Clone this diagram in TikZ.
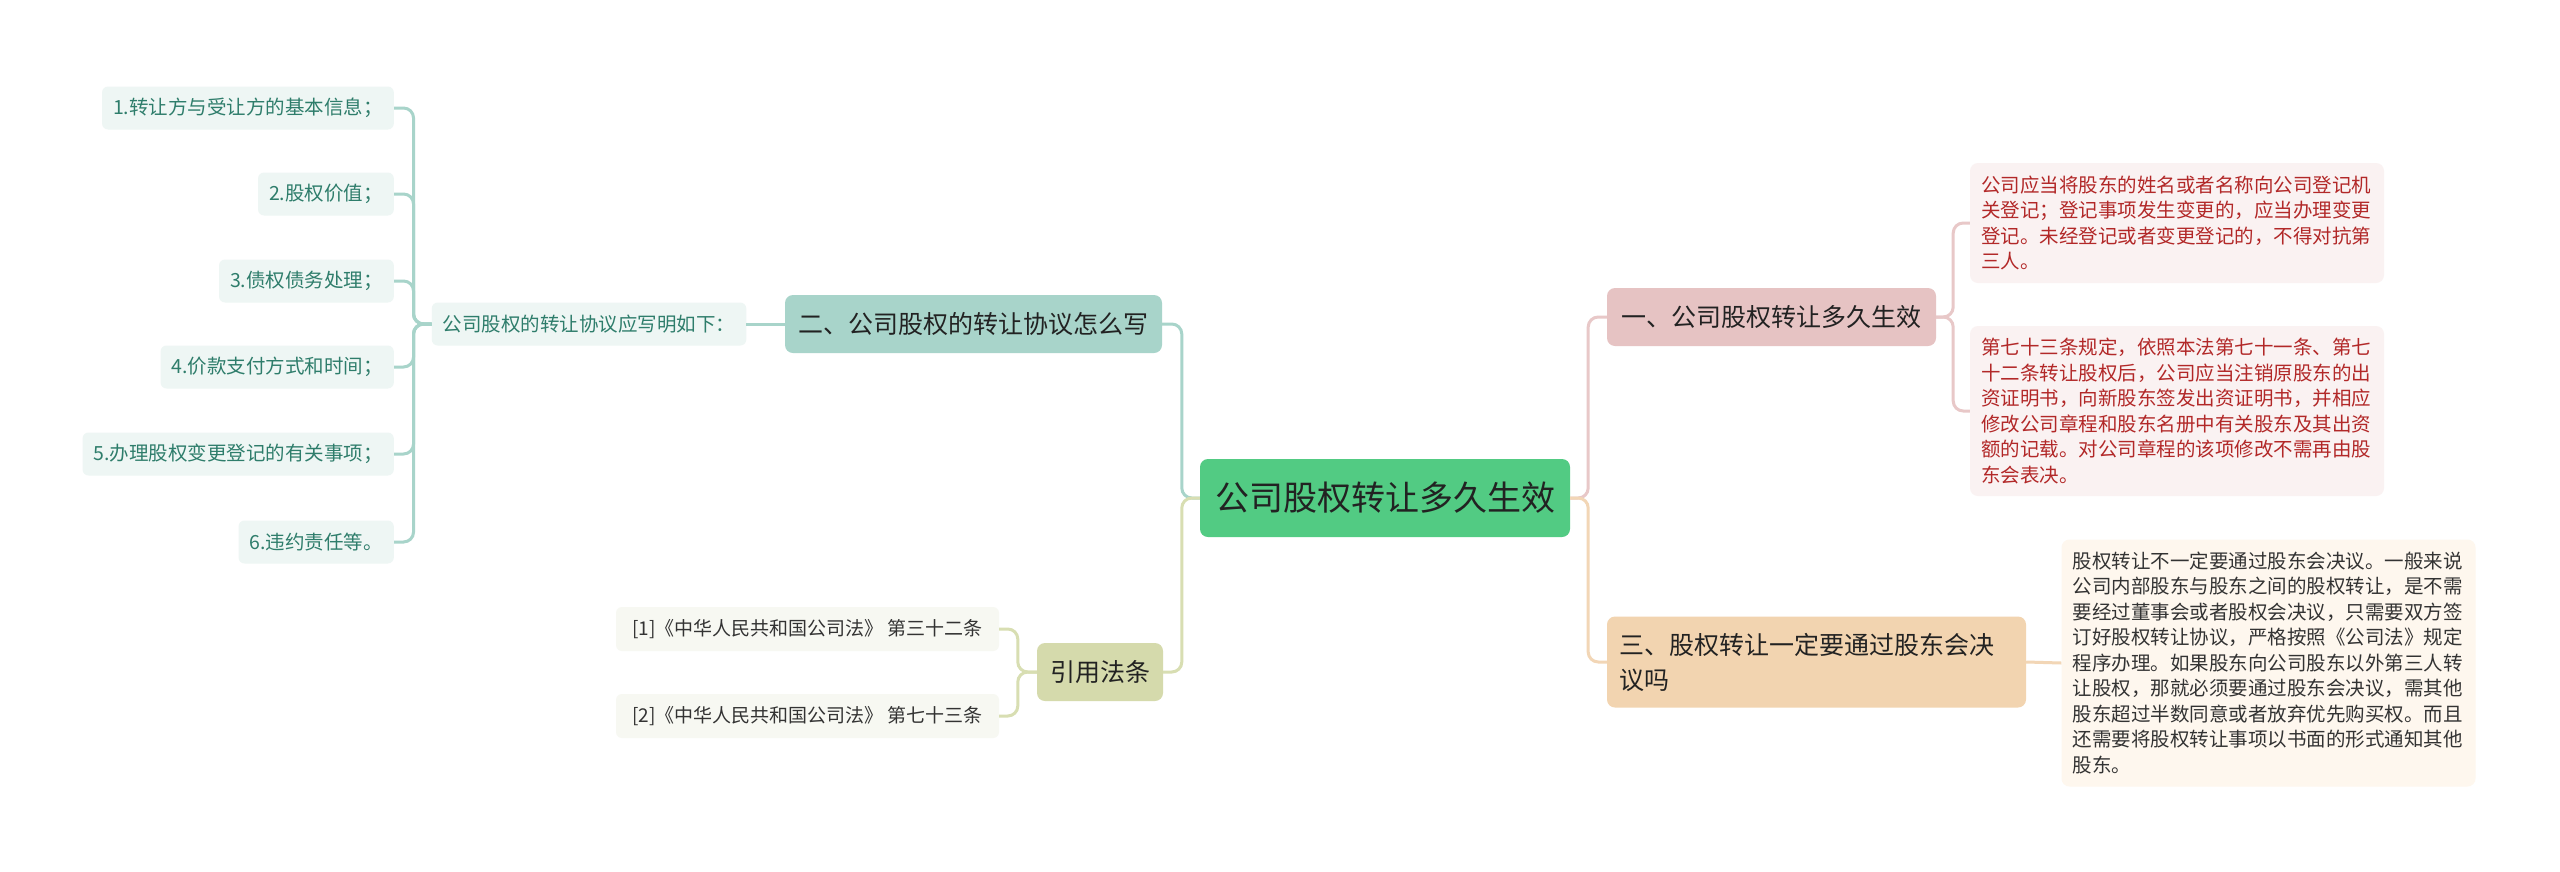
\documentclass[tikz,border=0pt]{standalone}
\usepackage{fontspec}
\setmainfont{Noto Sans CJK SC}
\definecolor{cRoot}{RGB}{82,203,131}
\definecolor{cDark}{RGB}{34,34,34}
\definecolor{cTwo}{RGB}{168,212,202}
\definecolor{cTwoLine}{RGB}{168,212,202}
\definecolor{cLeaf}{RGB}{238,246,244}
\definecolor{cLeafText}{RGB}{46,125,107}
\definecolor{cYin}{RGB}{213,218,172}
\definecolor{cYinLine}{RGB}{216,222,178}
\definecolor{cCite}{RGB}{247,248,242}
\definecolor{cOne}{RGB}{230,195,195}
\definecolor{cOneLine}{RGB}{232,200,200}
\definecolor{cRed}{RGB}{250,242,242}
\definecolor{cRedText}{RGB}{178,40,40}
\definecolor{cThree}{RGB}{242,212,176}
\definecolor{cThreeLine}{RGB}{242,214,182}
\definecolor{cThreeTxt}{RGB}{254,247,238}
\definecolor{cBody}{RGB}{51,51,51}
\tikzset{
  rootbox/.style={rectangle, rounded corners=8pt, inner sep=0pt, fill=cRoot, text=cDark,
    minimum width=370pt, minimum height=78pt, font=\fontsize{34}{40}\selectfont},
  mainbox/.style={rectangle, rounded corners=8pt, inner sep=0pt, text=cDark,
    minimum height=58pt, font=\fontsize{25}{35}\selectfont},
  leafbox/.style={rectangle, rounded corners=6pt, inner xsep=11pt, inner ysep=0pt, fill=cLeaf,
    text=cLeafText, minimum height=43pt, font=\fontsize{19.5}{25.5}\selectfont},
  citebox/.style={rectangle, rounded corners=6pt, inner xsep=9pt, inner ysep=0pt, fill=cCite,
    text=cBody, minimum height=44pt, font=\fontsize{19}{25}\selectfont},
  textbox/.style={rectangle, rounded corners=8pt, inner xsep=11pt, inner ysep=8pt,
    text width=392pt, align=left, font=\fontsize{19.5}{25.5}\selectfont},
  conn/.style={line width=3pt, rounded corners=10pt}
}
\begin{document}
\begin{tikzpicture}[x=1pt,y=-1pt]
\useasboundingbox (0,0) rectangle (2560,871);
\fill[white] (0,0) rectangle (2560,871);

% root
\node[rootbox] (root) at (1385,498) {公司股权转让多久生效};

% left branch 2
\node[mainbox, fill=cTwo, minimum width=377pt] (two) at (973.5,324) {二、公司股权的转让协议怎么写};
\node[leafbox] (xm) at (589,324) {公司股权的转让协议应写明如下：};
\node[leafbox, anchor=east] (l1) at (394,108) {1.转让方与受让方的基本信息；};
\node[leafbox, anchor=east] (l2) at (394,194) {2.股权价值；};
\node[leafbox, anchor=east] (l3) at (394,281) {3.债权债务处理；};
\node[leafbox, anchor=east] (l4) at (394,367) {4.价款支付方式和时间；};
\node[leafbox, anchor=east] (l5) at (394,454) {5.办理股权变更登记的有关事项；};
\node[leafbox, anchor=east] (l6) at (394,542) {6.违约责任等。};

% citations
\node[mainbox, fill=cYin, minimum width=126pt] (yy) at (1100,672) {引用法条};
\node[citebox, minimum width=383pt] (c1) at (807.5,629) {[1]《中华人民共和国公司法》 第三十二条};
\node[citebox, minimum width=383pt] (c2) at (807.5,716) {[2]《中华人民共和国公司法》 第七十三条};

% right branch 1
\node[mainbox, fill=cOne, minimum width=329pt] (one) at (1771.5,317) {一、公司股权转让多久生效};
\node[textbox, fill=cRed, text=cRedText, minimum height=120pt] (r1) at (2177,223)
 {公司应当将股东的姓名或者名称向公司登记机\\关登记；登记事项发生变更的，应当办理变更\\登记。未经登记或者变更登记的，不得对抗第\\三人。};
\node[textbox, fill=cRed, text=cRedText, minimum height=170pt] (r2) at (2177,411)
 {第七十三条规定，依照本法第七十一条、第七\\十二条转让股权后，公司应当注销原股东的出\\资证明书，向新股东签发出资证明书，并相应\\修改公司章程和股东名册中有关股东及其出资\\额的记载。对公司章程的该项修改不需再由股\\东会表决。};

% right branch 3
\node[mainbox, fill=cThree, minimum width=419pt, minimum height=91pt, text width=395pt, align=left] (three) at (1816.5,662)
 {三、股权转让一定要通过股东会决\\议吗};
\node[textbox, fill=cThreeTxt, text=cBody, minimum height=247pt] (t3) at (2268.5,663)
 {股权转让不一定要通过股东会决议。一般来说\\公司内部股东与股东之间的股权转让，是不需\\要经过董事会或者股权会决议，只需要双方签\\订好股权转让协议，严格按照《公司法》规定\\程序办理。如果股东向公司股东以外第三人转\\让股权，那就必须要通过股东会决议，需其他\\股东超过半数同意或者放弃优先购买权。而且\\还需要将股权转让事项以书面的形式通知其他\\股东。};

% connectors
\draw[conn, draw=cTwoLine] (root.west) -- ++(-18,0) |- (two.east);
\draw[conn, draw=cYinLine] (root.west) -- ++(-18,0) |- (yy.east);
\draw[conn, draw=cOneLine] (root.east) -- ++(18,0) |- (one.west);
\draw[conn, draw=cThreeLine] (root.east) -- ++(18,0) |- (three.west);
\draw[conn, draw=cTwoLine] (two.west) -- (xm.east);
\foreach \n in {l1,l2,l3,l4,l5,l6}
  \draw[conn, draw=cTwoLine] (xm.west) -- ++(-18,0) |- (\n.east);
\draw[conn, draw=cYinLine] (yy.west) -- ++(-19,0) |- (c1.east);
\draw[conn, draw=cYinLine] (yy.west) -- ++(-19,0) |- (c2.east);
\draw[conn, draw=cOneLine] (one.east) -- ++(17,0) |- (r1.west);
\draw[conn, draw=cOneLine] (one.east) -- ++(17,0) |- (r2.west);
\draw[conn, draw=cThreeLine] (three.east) -- (t3.west);
\end{tikzpicture}
\end{document}
